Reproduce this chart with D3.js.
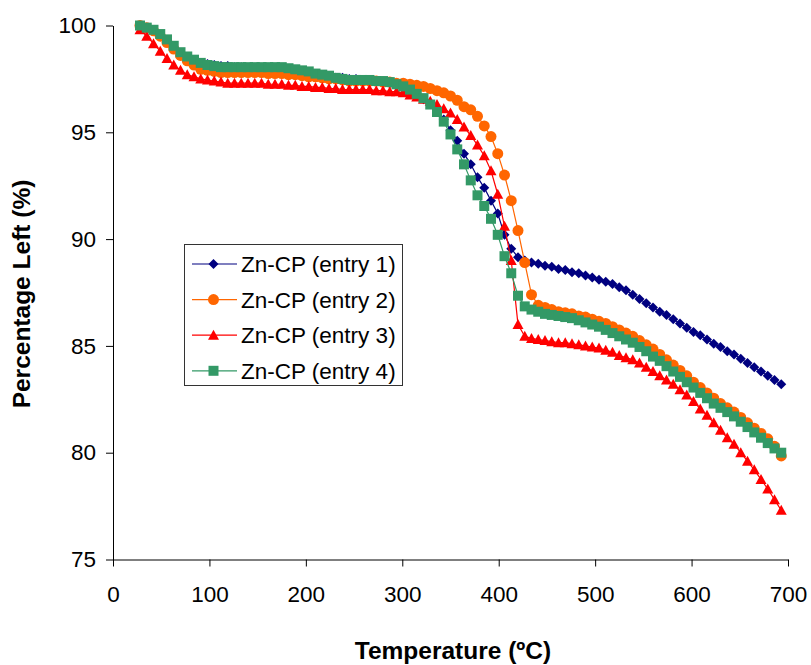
<!DOCTYPE html>
<html>
<head>
<meta charset="utf-8">
<script src="https://cdn.jsdelivr.net/npm/d3@7"></script>
<style>
  body { margin: 0; background: #fff; }
  svg { font-family: Arial, "Liberation Sans", sans-serif; }
</style>
</head>
<body>
<svg id="chart" width="811" height="665"></svg>
<script>
// ---- data ----
const temps = [28,35,42,49,56,63,70,77,84,91,98,105,112,119,126,133,140,147,154,161,168,175,182,189,196,203,210,217,224,231,238,245,252,259,266,273,280,287,294,301,308,315,322,329,336,343,350,357,364,371,378,385,392,399,406,413,420,427,434,441,448,455,462,469,476,483,490,497,504,511,518,525,532,539,546,553,560,567,574,581,588,595,602,609,616,623,630,637,644,651,658,665,672,679,686,693];

const entry1 = [100.0,99.9,99.75,99.5,99.25,98.95,98.7,98.5,98.35,98.25,98.2,98.15,98.1,98.1,98.05,98.05,98.0,98.0,98.0,97.95,97.95,97.9,97.9,97.85,97.8,97.75,97.7,97.65,97.6,97.55,97.55,97.5,97.5,97.45,97.45,97.4,97.35,97.3,97.2,97.1,96.95,96.75,96.55,96.35,96.0,95.6,95.1,94.6,94.0,93.5,92.9,92.4,91.8,91.2,90.2,89.55,89.15,89.0,88.9,88.85,88.75,88.7,88.6,88.55,88.45,88.4,88.3,88.2,88.1,88.0,87.9,87.75,87.6,87.4,87.2,87.0,86.8,86.6,86.45,86.25,86.05,85.85,85.65,85.5,85.3,85.1,84.95,84.75,84.6,84.4,84.2,84.0,83.8,83.6,83.4,83.2];

const entry2 = [100.0,99.9,99.75,99.5,99.2,98.9,98.6,98.35,98.15,97.95,97.9,97.85,97.8,97.8,97.8,97.8,97.8,97.8,97.8,97.75,97.75,97.75,97.7,97.7,97.65,97.6,97.6,97.55,97.5,97.5,97.45,97.4,97.4,97.4,97.4,97.4,97.35,97.35,97.3,97.3,97.25,97.2,97.15,97.05,96.95,96.85,96.7,96.5,96.2,96.05,95.75,95.3,94.8,94.0,93.0,91.8,90.4,88.9,87.4,86.9,86.8,86.7,86.6,86.55,86.5,86.4,86.35,86.25,86.15,86.05,85.9,85.75,85.6,85.45,85.25,85.05,84.85,84.6,84.35,84.1,83.85,83.6,83.3,83.05,82.8,82.55,82.3,82.1,81.9,81.65,81.4,81.15,80.9,80.65,80.3,79.85];

const entry3 = [99.8,99.5,99.15,98.8,98.45,98.15,97.9,97.7,97.6,97.5,97.45,97.4,97.35,97.3,97.3,97.3,97.3,97.3,97.3,97.25,97.25,97.25,97.2,97.2,97.15,97.15,97.1,97.1,97.05,97.05,97.0,97.0,97.0,97.0,97.0,96.95,96.95,96.9,96.9,96.85,96.75,96.65,96.55,96.45,96.3,96.1,95.9,95.6,95.25,94.85,94.4,93.9,93.2,92.1,90.6,89.0,86.0,85.45,85.35,85.3,85.25,85.2,85.15,85.15,85.1,85.05,85.0,84.95,84.9,84.8,84.7,84.55,84.45,84.35,84.2,84.0,83.8,83.6,83.4,83.2,82.95,82.7,82.4,82.05,81.75,81.4,81.05,80.7,80.4,80.0,79.6,79.2,78.75,78.3,77.8,77.3];

const entry4 = [100.0,99.9,99.8,99.6,99.35,99.05,98.75,98.55,98.4,98.25,98.15,98.1,98.05,98.05,98.05,98.05,98.05,98.05,98.05,98.05,98.05,98.05,98.0,97.95,97.9,97.85,97.75,97.7,97.65,97.55,97.5,97.45,97.45,97.45,97.45,97.4,97.4,97.35,97.25,97.15,97.0,96.8,96.6,96.3,95.95,95.5,94.9,94.2,93.5,92.75,92.05,91.55,90.95,90.2,89.2,88.4,87.35,86.85,86.7,86.6,86.5,86.45,86.4,86.35,86.3,86.2,86.1,86.0,85.9,85.75,85.6,85.45,85.3,85.15,84.95,84.75,84.5,84.3,84.05,83.8,83.55,83.3,83.05,82.8,82.55,82.3,82.1,81.9,81.7,81.45,81.2,80.95,80.7,80.45,80.2,80.0];

const seriesNames = ['Zn-CP (entry 1)', 'Zn-CP (entry 2)', 'Zn-CP (entry 3)', 'Zn-CP (entry 4)'];
const xTicks = [0, 100, 200, 300, 400, 500, 600, 700];
const yTicks = [75, 80, 85, 90, 95, 100];

// ---- layout ----
const svg = d3.select('#chart');
const plotLeft = 113, plotRight = 788, plotTop = 25.5, plotBottom = 559.5;

const x = d3.scaleLinear().domain([0, 700]).range([plotLeft, plotRight]);
const y = d3.scaleLinear().domain([75, 100]).range([plotBottom, plotTop]);

// axes
const xAxis = svg.append('g')
  .attr('transform', `translate(0,${plotBottom})`)
  .call(d3.axisBottom(x).tickValues(xTicks).tickSizeInner(7).tickSizeOuter(0).tickPadding(20));
const yAxis = svg.append('g')
  .attr('transform', `translate(${plotLeft},0)`)
  .call(d3.axisLeft(y).tickValues(yTicks).tickSizeInner(7).tickSizeOuter(0).tickPadding(10));

[xAxis, yAxis].forEach(a => {
  a.selectAll('path, line').attr('stroke', '#000').attr('stroke-width', 1);
  a.selectAll('text').attr('fill', '#000').style('font-size', '22.5px').style('font-family', 'Arial, "Liberation Sans", sans-serif');
});

// axis titles
svg.append('text')
  .attr('x', 453).attr('y', 659)
  .attr('text-anchor', 'middle')
  .style('font-size', '24.5px').style('font-weight', 'bold')
  .text('Temperature (ºC)');

svg.append('text')
  .attr('transform', 'translate(30,294) rotate(-90)')
  .attr('text-anchor', 'middle')
  .style('font-size', '24.5px').style('font-weight', 'bold')
  .text('Percentage Left (%)');

// ---- markers ----
const markers = {
  diamond: 'M0,-5L5,0L0,5L-5,0Z',
  circle: 'M5.5,0A5.5,5.5 0 1,1 -5.5,0A5.5,5.5 0 1,1 5.5,0Z',
  triangle: 'M0,-5.5L5.5,4.5L-5.5,4.5Z',
  square: 'M-5,-5H5V5H-5Z'
};

const series = [
  { name: seriesNames[0], values: entry1, color: '#000080', marker: 'diamond' },
  { name: seriesNames[1], values: entry2, color: '#FF6600', marker: 'circle' },
  { name: seriesNames[2], values: entry3, color: '#FF0000', marker: 'triangle' },
  { name: seriesNames[3], values: entry4, color: '#339966', marker: 'square' }
];

const line = d3.line().x(d => x(d[0])).y(d => y(d[1]));

series.forEach(s => {
  const pts = temps.map((t, i) => [t, s.values[i]]);
  const g = svg.append('g');
  g.append('path')
    .attr('d', line(pts))
    .attr('fill', 'none')
    .attr('stroke', s.color)
    .attr('stroke-width', 1.2);
  g.selectAll('path.mk')
    .data(pts)
    .enter()
    .append('path')
    .attr('class', 'mk')
    .attr('d', markers[s.marker])
    .attr('transform', d => `translate(${x(d[0])},${y(d[1])})`)
    .attr('fill', s.color);
});

// ---- legend ----
const legend = svg.append('g');
legend.append('rect')
  .attr('x', 184.5).attr('y', 244.5)
  .attr('width', 218).attr('height', 141)
  .attr('fill', '#fff').attr('stroke', '#333').attr('stroke-width', 1);

series.forEach((s, i) => {
  const ry = 264 + i * 35.6;
  legend.append('line')
    .attr('x1', 192).attr('x2', 237)
    .attr('y1', ry).attr('y2', ry)
    .attr('stroke', s.color).attr('stroke-width', 1.2);
  legend.append('path')
    .attr('d', markers[s.marker])
    .attr('transform', `translate(213.5,${ry})`)
    .attr('fill', s.color);
  legend.append('text')
    .attr('x', 241).attr('y', ry + 8)
    .style('font-size', '22.5px')
    .attr('fill', '#000')
    .text(s.name);
});
</script>
</body>
</html>
